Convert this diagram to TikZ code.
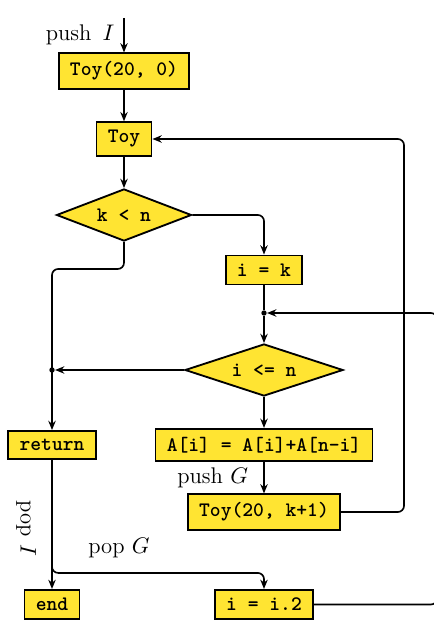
\documentclass[tikz,border=0pt]{standalone}
\usepackage{amsmath, amssymb}
\usepackage{tikz}
\usetikzlibrary{arrows.meta}
\usetikzlibrary{positioning,shapes}
\usepackage{xcolor}
\definecolor{boxyellow}{RGB}{255,228,50}
\tikzset{
    block/.style={
        draw,
        rectangle,
        fill=boxyellow,
        line width=0.9pt,
        inner xsep=5.5pt,
        inner ysep=4pt,
        font=\ttfamily\bfseries
    },
    test/.style={
        draw,
        diamond,
        aspect=3,
        fill=boxyellow,
        line width=0.9pt,
        inner sep=1pt,
        minimum height=25.3pt,
        font=\ttfamily\bfseries
    },
    flow/.style={
        draw,
        -{Stealth[length=4.5pt, width=3.6pt]},
        line width=0.8pt,
        rounded corners=3pt
    },
    wire/.style={
        draw,
        line width=0.8pt
    },
    tag/.style={font=\fontsize{11}{13}\selectfont},
    junction/.style={circle, fill, inner sep=0pt, minimum size=2.6pt}
}

\begin{document}
\begin{tikzpicture}[x=0.486pt, y=-0.486pt]
    \useasboundingbox (0,0) rectangle (433,621);

    \coordinate (start) at (124,18);
    \node[block] (toyinit) at (124,71) {Toy(20, 0)};
    \node[block] (toy) at (124,139) {Toy};
    \node[test, minimum width=65.6pt] (klessn) at (124,215) {k < n};
    \node[block] (iek) at (264,270) {i = k};
    \node[junction] (j1) at (264,313) {};
    \node[test, minimum width=76.8pt] (ilen) at (264,370) {i <= n};
    \node[junction] (j2) at (52,370) {};
    \node[block] (ret) at (52,445) {return};
    \node[block] (upd) at (264,445) {A[i] = A[i]+A[n-i]};
    \node[block] (rec) at (264,512) {Toy(20, k+1)};
    \node[block] (stop) at (52,604.5) {end};
    \node[block] (inc) at (264,604.5) {i = i.2};
    \node[tag] (popg) at (119,548) {pop $G$};

    \draw[flow] (start) -- node[tag, left, xshift=-1pt] {push \,$I$} (toyinit);
    \draw[flow] (toyinit) -- (toy);
    \draw[flow] (toy) -- (klessn);
    \draw[flow] (klessn.east) -| (iek.north);
    \draw[flow] (klessn.south) -- ++(0,27) -| (ret.north);
    \draw[wire] (iek) -- (j1);
    \draw[flow] (j1) -- (ilen);
    \draw[flow] (ilen.west) -- (j2);
    \draw[flow] (ilen) -- (upd);
    \draw[flow] (upd) -- node[tag, left, xshift=-4pt] {push $G$} (rec);
    \draw[flow] (rec.east) -| (404,139) -- (toy.east);
    \draw[flow] (inc.east) -| (437,313) -- (j1);
    \draw[flow] (ret) -- node[tag, xshift=-4pt, yshift=-2pt, rotate=-90, anchor=north] {pop $I$} (stop);
    \draw[flow] (ret.south) -- ++(0,113) -| (inc.north);
\end{tikzpicture}
\end{document}
